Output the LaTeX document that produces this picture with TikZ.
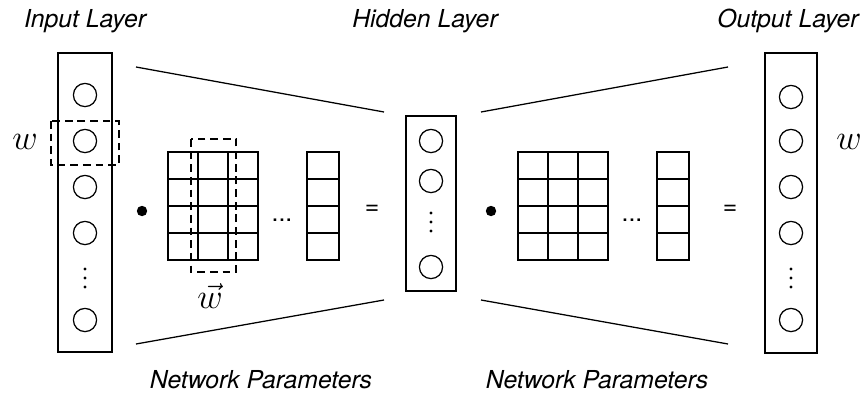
\documentclass[tikz,border=0pt]{standalone}
\usepackage{fontspec}
\setmainfont{TeX Gyre Heros}
\usepackage{tikz}

\tikzset{
    neuron/.style={draw, circle, minimum size=0.58cm, inner sep=0pt},
    layertitle/.style={font=\fontsize{17.6}{20}\selectfont\itshape, anchor=base},
    sign/.style={font=\fontsize{17.6}{20}\selectfont},
    pick/.style={dash pattern=on 5.5pt off 3.5pt}
}

\begin{document}
\begin{tikzpicture}[x=0.025cm, y=-0.025cm, line width=0.9pt]
    \useasboundingbox (0,0) rectangle (864,396);
    % Titles above and below
    \node[layertitle] (intitle) at (85,27) {Input Layer};
    \node[layertitle] (hidtitle) at (425,27) {Hidden Layer};
    \node[layertitle] (outtitle) at (788,27) {Output Layer};
    \node[layertitle] (params1) at (261,388) {Network Parameters};
    \node[layertitle] (params2) at (597,388) {Network Parameters};
    % Input layer
    \draw (58,53) rectangle (112,352);
    \foreach \y [count=\i] in {95, 141, 187, 233, 320} {
        \node[neuron] (in\i) at (85,\y) {};
    }
    \foreach \y in {269, 278, 287} {
        \fill (85,\y) circle[radius=1.1pt];
    }
    \draw[pick] (51,121) rectangle (119,165);
    \node[font=\Huge, inner sep=0pt] (win) at (25,142) {$w$};
    % Hidden layer
    \draw (406,116) rectangle (456,291);
    \foreach \y [count=\i] in {141, 181, 267} {
        \node[neuron] (hid\i) at (431,\y) {};
    }
    \foreach \y in {213, 222, 231} {
        \fill (431,\y) circle[radius=1.1pt];
    }
    % Output layer
    \draw (765,53) rectangle (817,353);
    \foreach \y [count=\i] in {97, 141, 187, 233, 320} {
        \node[neuron] (out\i) at (791,\y) {};
    }
    \foreach \y in {269, 278, 287} {
        \fill (791,\y) circle[radius=1.1pt];
    }
    \node[font=\Huge, inner sep=0pt] (wout) at (849,142) {$w$};
    % Weight matrices and bias columns
    \foreach \x in {168, 518} {
        \foreach \c in {0, 1, 2} {
            \foreach \r in {0, 1, 2, 3} {
                \draw (\x+\c*30, 152+\r*27) rectangle +(30,27);
            }
        }
    }
    \foreach \x in {307, 657} {
        \foreach \r in {0, 1, 2, 3} {
            \draw (\x, 152+\r*27) rectangle +(32,27);
        }
    }
    \draw[pick] (191,139) rectangle (236,272);
    \node[font=\Huge, inner sep=0pt] (wvec) at (210,296) {$\vec{w}$};
    % Products, dots and equal signs
    \fill (142,211) circle[radius=3.7pt];
    \fill (491,211) circle[radius=3.7pt];
    \node[sign, anchor=base] (dots1) at (282,221) {...};
    \node[sign, anchor=base] (dots2) at (632,221) {...};
    \node[sign] (eq1) at (372,210) {=};
    \node[sign] (eq2) at (730,210) {=};
    % Funnel lines between the layers
    \coordinate (inTop) at (136,67);
    \coordinate (inBot) at (136,344);
    \coordinate (hidTopL) at (384,112);
    \coordinate (hidBotL) at (384,300);
    \coordinate (hidTopR) at (481,112);
    \coordinate (hidBotR) at (481,300);
    \coordinate (outTop) at (728,67);
    \coordinate (outBot) at (728,344);
    \draw (inTop) -- (hidTopL);
    \draw (inBot) -- (hidBotL);
    \draw (hidTopR) -- (outTop);
    \draw (hidBotR) -- (outBot);
\end{tikzpicture}
\end{document}
